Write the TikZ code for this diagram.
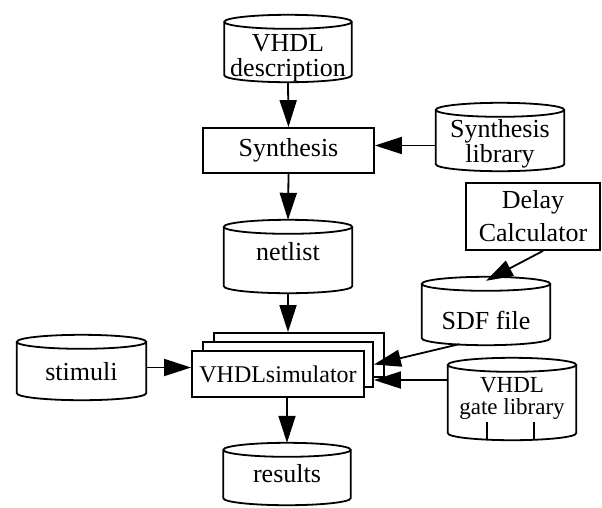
\documentclass[tikz,border=0pt]{standalone}
\usepackage{fontspec}
\setmainfont{Liberation Serif}
\usetikzlibrary{arrows.meta,calc}
\newcommand\stacktext[2]{\smash{\raisebox{#1}{\begin{tabular}{@{}c@{}}#2\end{tabular}}}}
\newcommand\onetext[2]{\smash{\raisebox{#1}{#2}}}
\newcommand\drawcyl[1]{%
  \draw[cyl] let \p1=(#1.north west), \p2=(#1.south east), \n1={(\x2-\x1)/2} in
    ({(\x1+\x2)/2},\y1-7pt) ellipse [x radius=\n1, y radius=7pt]
    (\x1,\y1-7pt) -- (\x1,\y2+7pt) arc [start angle=180, end angle=360, x radius=\n1, y radius=7pt] -- (\x2,\y1-7pt);
}
\tikzset{
  every node/.style={font=\fontsize{26}{22}\selectfont},
  store/.style={rectangle, inner sep=0pt},
  proc/.style={rectangle, draw, line width=1.8pt, fill=white, inner sep=0pt},
  cyl/.style={line width=1.8pt},
  flow/.style={line width=1.8pt, -{Triangle[length=27pt,width=17pt]}},
}
\begin{document}
\begin{tikzpicture}[x=1pt,y=1pt]
\useasboundingbox (0,0) rectangle (602,-507);
% stores (cylinders)
\node[store, minimum width=127pt, minimum height=67pt, font=\fontsize{26}{21}\selectfont] (desc) at (288,-48.5) {\stacktext{-16.3pt}{VHDL\\description}};
\node[store, minimum width=128pt, minimum height=68pt, font=\fontsize{26}{24}\selectfont] (slib) at (500,-137) {\stacktext{-13.7pt}{Synthesis\\library}};
\node[store, minimum width=128pt, minimum height=73pt] (netlist) at (288,-256.5) {\onetext{-3.5pt}{netlist}};
\node[store, minimum width=128pt, minimum height=68pt] (sdf) at (486,-311) {\onetext{-18pt}{SDF file}};
\node[store, minimum width=129pt, minimum height=65pt] (stim) at (81.5,-367.5) {\onetext{-12.5pt}{stimuli}};
\node[store, minimum width=128pt, minimum height=82pt, font=\fontsize{23}{22}\selectfont] (glib) at (512,-399) {\stacktext{-6.3pt}{VHDL\\gate library}};
\node[store, minimum width=127pt, minimum height=62pt] (results) at (287,-474) {\onetext{-8pt}{results}};
% processes
\node[proc, minimum width=171pt, minimum height=45pt] (synth) at (288.5,-150.5) {Synthesis};
\node[proc, minimum width=134pt, minimum height=67pt, align=center, font=\fontsize{26}{33}\selectfont] (dc) at (533,-216.5) {Delay\\Calculator};
\node[proc, minimum width=170pt, minimum height=44pt] (simC) at (299,-355) {};
\node[proc, minimum width=170pt, minimum height=45pt] (simB) at (288,-364.5) {};
\node[proc, minimum width=172pt, minimum height=46pt, font=\fontsize{24}{24}\selectfont] (sim) at (278,-374) {VHDLsimulator};
% cylinder outlines
\drawcyl{desc}
\drawcyl{slib}
\drawcyl{netlist}
\drawcyl{sdf}
\drawcyl{stim}
\drawcyl{glib}
\drawcyl{results}
\draw[cyl] ($(glib.south)+(-25,18)$) -- ++(0,-17.4);
\draw[cyl] ($(glib.south)+(22,18)$) -- ++(0,-17.5);
% connectors
\path ($(slib.west |- synth.east)+(0,5)$) coordinate (sin);
\path ($(glib.west)+(0,19)$) coordinate (gin);
\draw[flow] (desc.south) -- (synth.north);
\draw[flow] (sin) -- (sin -| synth.east);
\draw[flow] (synth.south) -- (netlist.north);
\draw[flow] (netlist.south) -- (netlist.south |- simC.north);
\draw[flow] (stim.east) -- (stim.east -| sim.west);
\draw[flow] (sim.south -| results.north) -- (results.north);
\draw[flow] ($(dc.south)+(10,0)$) -- ($(sdf.north)+(0,-4)$);
\draw[flow] ($(sdf.south)+(-27,1)$) -- (simB.east);
\draw[flow] (gin) -- (gin -| simB.east);
\end{tikzpicture}
\end{document}
